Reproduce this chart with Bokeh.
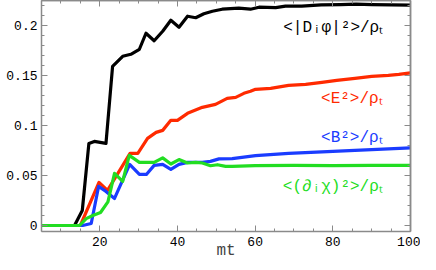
from bokeh.plotting import figure
from bokeh.models import Range1d, FixedTicker, LinearAxis, CustomJSTickFormatter, Label
from bokeh.embed import file_html
from bokeh.resources import INLINE

# ---- data ----
t_black = [5, 13.5, 15.5, 17.2, 18.6, 21.6, 23.3, 25.9, 28.0, 30.2, 31.9, 34.0, 36.2, 38.3,
           40.4, 42.6, 44.7, 46.8, 49.0, 51.5, 55.8, 58.8, 61.0, 65.3, 67.8, 72, 77, 82, 86,
           90, 95, 100]
v_black = [0, 0, 0.015, 0.082, 0.084, 0.082, 0.159, 0.169, 0.171, 0.176, 0.192, 0.1845,
           0.194, 0.205, 0.198, 0.209, 0.2075, 0.2115, 0.214, 0.216, 0.217, 0.216, 0.218,
           0.2176, 0.219, 0.219, 0.2203, 0.2205, 0.221, 0.2205, 0.2203, 0.2200]

t_red = [5, 15.0, 19.8, 22.0, 27.8, 29.8, 32.3, 34.5, 36.2, 38.3, 40.0, 42.6, 46.4, 49.8,
         52.8, 55.0, 57.1, 58.8, 60.1, 64, 68.6, 73, 77.2, 81, 85.7, 90, 94.3, 97, 100]
v_red = [0, 0, 0.043, 0.035, 0.072, 0.072, 0.087, 0.093, 0.095, 0.105, 0.105, 0.112, 0.118,
         0.121, 0.127, 0.128, 0.132, 0.134, 0.136, 0.137, 0.140, 0.141, 0.143, 0.145, 0.147,
         0.149, 0.150, 0.151, 0.1525]

t_blue = [5, 15.6, 17.8, 19.7, 21.6, 23.8, 27.7, 30.2, 32.0, 34.0, 36.2, 38.3, 40.4, 42.6,
          46.4, 48.5, 50.7, 54.1, 60.1, 68.6, 77.2, 85.7, 100]
v_blue = [0, 0, 0.002, 0.039, 0.034, 0.027, 0.061, 0.051, 0.051, 0.060, 0.061, 0.056, 0.061,
          0.063, 0.063, 0.064, 0.0665, 0.0668, 0.0698, 0.072, 0.0735, 0.075, 0.0776]

t_green = [5, 14.8, 16.5, 18.2, 20.2, 22.1, 23.8, 25.9, 27.6, 30.2, 34.0, 36.2, 38.3, 40.4,
           42.6, 44.7, 46.4, 48.5, 50.3, 52.4, 54.1, 60, 70, 80, 90, 100]
v_green = [0, 0, 0.0068, 0.010, 0.013, 0.0236, 0.052, 0.044, 0.070, 0.063, 0.063, 0.0675,
           0.0614, 0.0658, 0.0624, 0.063, 0.0624, 0.0597, 0.0607, 0.059, 0.059, 0.0597,
           0.0600, 0.0597, 0.0600, 0.0600]

x_ticks = [20, 40, 60, 80, 100]
x_minor = [5, 10, 15, 25, 30, 35, 45, 50, 55, 65, 70, 75, 85, 90, 95]
y_ticks = [0, 0.05, 0.1, 0.15, 0.2]
y_minor = [0.01, 0.02, 0.03, 0.04, 0.06, 0.07, 0.08, 0.09, 0.11, 0.12, 0.13, 0.14,
           0.16, 0.17, 0.18, 0.19, 0.21, 0.22]

labels = ["<|Dᵢφ|²>/ρₜ", "<E²>/ρₜ", "<B²>/ρₜ", "<(∂ᵢχ)²>/ρₜ"]
colors = ["#000000", "#ff2a00", "#1a3cff", "#22dd22"]
label_x = [80.1, 84.9, 84.9, 80.0]
label_y = [0.197, 0.1265, 0.0877, 0.0388]

FONT = "Liberation Mono"
AX = "#8a8a8a"

p = figure(width=420, height=262, output_backend="svg", toolbar_location=None,
           x_range=Range1d(5, 100), y_range=Range1d(-0.006, 0.2247),
           min_border_left=41, min_border_right=10, min_border_top=0, min_border_bottom=0,
           x_axis_label="mt")
p.grid.visible = False
p.outline_line_color = None
p.background_fill_color = "white"
p.border_fill_color = "white"

for t, v, c in zip([t_black, t_red, t_blue, t_green], [v_black, v_red, v_blue, v_green], colors):
    p.line(t, v, line_color=c, line_width=3.2, line_join="round")

for lab, c, lx, ly in zip(labels, colors, label_x, label_y):
    p.add_layout(Label(x=lx, y=ly, text=lab, text_color=c, text_font=FONT,
                       text_font_size="16px", text_align="center", text_baseline="middle"))

fmt = CustomJSTickFormatter(code="return String(tick);")


def base(ax):
    ax.axis_line_color = AX
    ax.axis_line_width = 1.5
    ax.major_tick_line_color = AX
    ax.minor_tick_line_color = AX
    ax.major_tick_out = 0
    ax.minor_tick_out = 0
    ax.major_label_standoff = 0


def labelled(ax, ticks, minor):
    base(ax)
    ax.ticker = FixedTicker(ticks=ticks, minor_ticks=minor)
    ax.major_tick_in = 6
    ax.minor_tick_in = 3
    ax.formatter = fmt
    ax.major_label_text_font = FONT
    ax.major_label_text_font_size = "13px"
    ax.major_label_text_color = "black"
    ax.major_label_standoff = 4


def unlabelled(ticks, length):
    # only "minor" ticks -> no tick labels at all
    ax = LinearAxis()
    base(ax)
    ax.ticker = FixedTicker(ticks=[], minor_ticks=ticks)
    ax.major_tick_in = 0
    ax.minor_tick_in = length
    return ax


labelled(p.xaxis[0], x_ticks, x_minor)
labelled(p.yaxis[0], y_ticks, y_minor)
p.xaxis[0].major_label_standoff = 5
p.xaxis[0].axis_label_text_font = FONT
p.xaxis[0].axis_label_text_font_size = "16px"
p.xaxis[0].axis_label_text_font_style = "normal"
p.xaxis[0].axis_label_standoff = -7

p.add_layout(unlabelled(x_ticks, 6), "above")
p.add_layout(unlabelled(x_minor, 3), "above")
p.add_layout(unlabelled(y_ticks, 6), "right")
p.add_layout(unlabelled(y_minor, 3), "right")

open("out.html", "w").write(file_html(p, INLINE))
